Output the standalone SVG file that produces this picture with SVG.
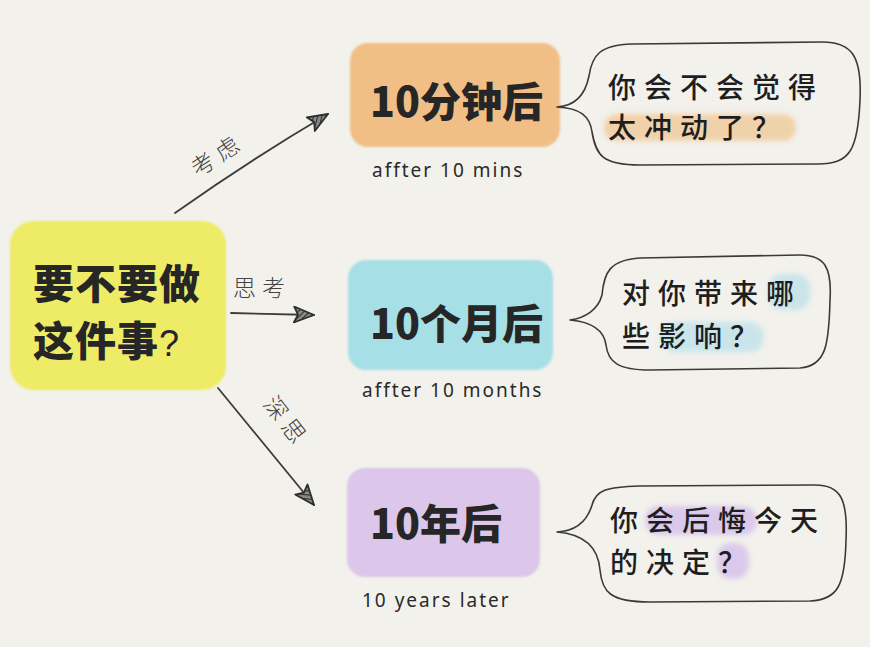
<svg xmlns="http://www.w3.org/2000/svg" width="870" height="647" viewBox="0 0 870 647">
<defs>
<pattern id="hatch" width="4" height="4" patternUnits="userSpaceOnUse" patternTransform="rotate(45)">
<rect width="4" height="4" fill="#8a8a8a"/>
<line x1="0" y1="0" x2="0" y2="4" stroke="#2e2e2e" stroke-width="2.2"/>
</pattern>
<marker id="arr" viewBox="0 0 24 18" refX="22" refY="9" markerWidth="24" markerHeight="18" markerUnits="userSpaceOnUse" orient="auto">
<polygon points="2,1 22,9 2,17 6,9" fill="url(#hatch)" stroke="#2e2e2e" stroke-width="1.8" stroke-linejoin="round"/>
</marker>
<filter id="soft" x="-20%" y="-40%" width="140%" height="180%"><feGaussianBlur stdDeviation="2.5"/></filter>
<filter id="boxsoft" x="-5%" y="-5%" width="110%" height="110%"><feGaussianBlur stdDeviation="0.8"/></filter>
</defs>
<style>
.box{font-family:"Noto Sans CJK SC","Noto Sans",sans-serif;font-weight:900;fill:#262626;}
.en{font-family:"Noto Sans","Lato",sans-serif;font-size:19px;fill:#2a2a2a;letter-spacing:2px;}
.bub{font-family:"Noto Sans CJK SC","Noto Sans",sans-serif;font-size:28px;font-weight:500;fill:#1e1e1e;letter-spacing:8px;}
.lbl{font-family:"Noto Sans CJK SC",sans-serif;font-size:23px;font-weight:300;fill:#444;letter-spacing:6px;}
.bubble{fill:none;stroke:#3a3a3a;stroke-width:1.6;stroke-linejoin:round;}
.conn{fill:none;stroke:#3c3c3c;stroke-width:1.8;stroke-linecap:round;}
</style>
<rect width="870" height="647" fill="#f2f1ec"/>

<g id="connectors">
<path class="conn" d="M175 213 Q250 160 328 114" marker-end="url(#arr)"/>
<path class="conn" d="M231 313 L314 315" marker-end="url(#arr)"/>
<path class="conn" d="M218 388 Q265 445 314 505" marker-end="url(#arr)"/>
<text class="lbl" transform="translate(222 162) rotate(-33)" text-anchor="middle">考虑</text>
<text class="lbl" x="233" y="296">思考</text>
<text class="lbl" transform="translate(280 427) rotate(52)" text-anchor="middle">深思</text>
</g>

<g id="center">
<rect x="10" y="221" width="216" height="169" rx="24" fill="#eeeb66" filter="url(#boxsoft)"/>
<text class="box" font-size="41" letter-spacing="1"><tspan x="33" y="299">要不要做</tspan><tspan x="33" y="356">这件事<tspan font-family="Liberation Sans,sans-serif" font-weight="400" font-size="36">?</tspan></tspan></text>
</g>

<g id="node-10min">
<rect x="350" y="43" width="210" height="104" rx="18" fill="#f1be86" filter="url(#boxsoft)"/>
<text class="box" x="370" y="117" font-size="41">10分钟后</text>
<text class="en" x="372" y="177">affter 10 mins</text>
</g>

<g id="bubble-10min">
<rect x="604" y="114" width="192" height="27" rx="13" fill="#f0c894" opacity="0.75" filter="url(#soft)"/>
<path class="bubble" d="M557 107 C575 106 585 96 589 76 C592 55 600 45 632 44 L822 42 C852 42 862 56 860 100 C858 150 850 164 818 164 L640 165 C602 165 596 155 592 132 C590 116 580 108 557 107 Z"/>
<text class="bub"><tspan x="608" y="98">你会不会觉得</tspan><tspan x="608" y="138">太冲动了？</tspan></text>
</g>

<g id="node-10month">
<rect x="348" y="260" width="205" height="110" rx="18" fill="#a7dfe6" filter="url(#boxsoft)"/>
<text class="box" x="370" y="339" font-size="41">10个月后</text>
<text class="en" x="362" y="397">affter 10 months</text>
</g>

<g id="bubble-10month">
<rect x="768" y="274" width="42" height="36" rx="14" fill="#bfe3ea" opacity="0.8" filter="url(#soft)"/>
<rect x="660" y="322" width="104" height="30" rx="14" fill="#bfe3ea" opacity="0.8" filter="url(#soft)"/>
<path class="bubble" d="M570 320 C585 318 598 310 602 295 C604 272 610 260 640 258 L800 255 C825 255 832 268 830 300 C829 345 826 366 800 368 L650 370 C618 370 608 362 606 345 C604 330 592 322 570 320 Z"/>
<text class="bub"><tspan x="622" y="304">对你带来哪</tspan><tspan x="622" y="347">些影响？</tspan></text>
</g>

<g id="node-10year">
<rect x="347" y="468" width="193" height="109" rx="18" fill="#dcc6e9" filter="url(#boxsoft)"/>
<text class="box" x="370" y="539" font-size="41">10年后</text>
<text class="en" x="362" y="607">10 years later</text>
</g>

<g id="bubble-10year">
<rect x="645" y="506" width="112" height="29" rx="14" fill="#d7c3ec" opacity="0.85" filter="url(#soft)"/>
<rect x="717" y="543" width="32" height="36" rx="14" fill="#d7c3ec" opacity="0.85" filter="url(#soft)"/>
<path class="bubble" d="M557 532 C575 531 587 522 592 505 C596 490 606 487 640 486 L815 485 C840 485 848 498 846 540 C845 585 838 600 810 601 L650 602 C610 602 602 592 600 570 C598 545 582 534 557 532 Z"/>
<text class="bub"><tspan x="610" y="531">你会后悔今天</tspan><tspan x="610" y="573">的决定？</tspan></text>
</g>
</svg>
